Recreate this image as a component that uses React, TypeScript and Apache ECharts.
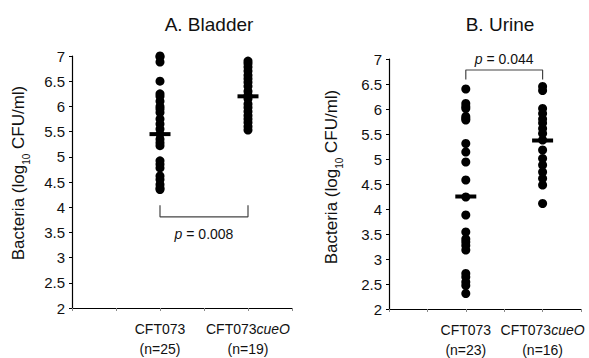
import React, { useEffect, useRef } from 'react';
import * as echarts from 'echarts';

const groupX = [2, 4];
const bladderWT = [7.0, 6.98, 6.88, 6.5, 6.25, 6.2, 6.1, 6.0, 5.95, 5.88, 5.75, 5.65, 5.55, 5.45, 5.35, 5.28, 5.22, 4.92, 4.85, 4.78, 4.62, 4.55, 4.45, 4.38, 4.35];
const bladderMut = [6.9, 6.85, 6.78, 6.7, 6.62, 6.55, 6.48, 6.4, 6.3, 6.22, 6.15, 6.05, 5.98, 5.9, 5.82, 5.75, 5.68, 5.6, 5.53];
const urineWT = [6.4, 6.11, 6.05, 6.01, 5.85, 5.81, 5.78, 5.31, 5.14, 4.94, 4.58, 4.24, 3.88, 3.54, 3.4, 3.34, 3.27, 3.18, 2.71, 2.64, 2.54, 2.47, 2.31];
const urineMut = [6.45, 6.37, 6.01, 5.91, 5.8, 5.72, 5.61, 5.51, 5.38, 5.18, 5.01, 4.88, 4.74, 4.61, 4.48, 4.11];
const bladderMeans = [5.45, 6.2];
const urineMeans = [4.25, 5.37];
const bladderN = [25, 19];
const urineN = [23, 16];
const bladderBracket = [4.04, 3.81];
const urineBracket = [6.59, 6.78];
const bladderP = { x: 3, y: 3.47, text: '0.008' };
const urineP = { x: 3, y: 7.0, text: '0.044' };
const titles = ['A. Bladder', 'B. Urine'];
const yName = '{t|Bacteria (log}{s|10}{t| CFU/ml)}';

const FONT = '"Liberation Sans", Arial, sans-serif';

export default function App() {
  const ref = useRef<HTMLDivElement>(null);
  useEffect(() => {
    const chart = echarts.init(ref.current!, undefined, { renderer: 'svg' });

    const xAxis = (gi: number, n: number[]) => ({
      type: 'value',
      gridIndex: gi,
      min: 0,
      max: 5,
      interval: 1,
      splitLine: { show: false },
      axisLine: { lineStyle: { color: '#000', width: 1.2 } },
      axisTick: { show: true, length: 3, lineStyle: { color: '#888' } },
      axisLabel: {
        margin: 11,
        showMinLabel: true,
        showMaxLabel: true,
        formatter: (v: number) => {
          if (v === groupX[0]) return `{a|CFT073}\n{a|(n=${n[0]})}`;
          if (v === groupX[1]) return `{a|CFT073}{b|cueO}\n{a|(n=${n[1]})}`;
          return '';
        },
        rich: {
          a: { fontSize: 14, fontFamily: FONT, color: '#111', lineHeight: 20 },
          b: { fontSize: 14, fontFamily: FONT, color: '#111', fontStyle: 'italic', lineHeight: 20 },
        },
      },
    });
    const yAxis = (gi: number, gap: number, pad: number) => ({
      type: 'value',
      gridIndex: gi,
      min: 2,
      max: 7,
      interval: 0.5,
      splitLine: { show: false },
      axisLine: { show: true, lineStyle: { color: '#000', width: 1.2 } },
      axisTick: { show: true, length: 3, lineStyle: { color: '#000' } },
      axisLabel: { margin: 7, fontSize: 15, fontFamily: FONT, color: '#111' },
      name: yName,
      nameLocation: 'middle',
      nameGap: gap,
      nameTextStyle: {
        padding: [0, 0, 0, pad],
        rich: {
          t: { fontSize: 17, fontFamily: FONT, color: '#111', lineHeight: 20 },
          s: { fontSize: 10, fontFamily: FONT, color: '#111', lineHeight: 20, verticalAlign: 'bottom', padding: [0, 0, -3, 0] },
        },
      },
    });

    const dots = (gi: number, x: number, vals: number[]) => ({
      type: 'scatter',
      xAxisIndex: gi,
      yAxisIndex: gi,
      symbol: 'circle',
      symbolSize: 9,
      itemStyle: { color: '#000', opacity: 1 },
      data: vals.map((v) => [x, v]),
      z: 3,
    });
    const meanBars = (gi: number, means: number[]) => ({
      type: 'scatter',
      xAxisIndex: gi,
      yAxisIndex: gi,
      symbol: 'rect',
      symbolSize: [21, 4],
      itemStyle: { color: '#000', opacity: 1 },
      data: means.map((m, i) => [groupX[i], m]),
      z: 4,
    });
    const bracket = (gi: number, b: number[]) => ({
      type: 'line',
      xAxisIndex: gi,
      yAxisIndex: gi,
      symbol: 'none',
      lineStyle: { color: '#444', width: 1.2 },
      data: [
        [groupX[0], b[0]],
        [groupX[0], b[1]],
        [groupX[1], b[1]],
        [groupX[1], b[0]],
      ],
      z: 2,
    });
    const pLabel = (gi: number, p: { x: number; y: number; text: string }) => ({
      type: 'scatter',
      xAxisIndex: gi,
      yAxisIndex: gi,
      symbolSize: 0,
      itemStyle: { color: '#000', opacity: 1 },
      data: [[p.x, p.y]],
      label: {
        show: true,
        position: 'inside',
        opacity: 1,
        formatter: `{i|p}{n| = ${p.text}}`,
        rich: {
          i: { fontSize: 14, fontFamily: FONT, color: '#111', fontStyle: 'italic' },
          n: { fontSize: 14, fontFamily: FONT, color: '#111' },
        },
      },
    });

    chart.setOption({
      animation: false,
      backgroundColor: '#fff',
      title: [
        { text: titles[0], left: 204, top: 10, textAlign: 'center', textStyle: { fontSize: 19, fontWeight: 'normal', fontFamily: FONT, color: '#111' } },
        { text: titles[1], left: 495, top: 10, textAlign: 'center', textStyle: { fontSize: 19, fontWeight: 'normal', fontFamily: FONT, color: '#111' } },
      ],
      grid: [
        { left: 72, top: 56, width: 220, height: 252 },
        { left: 389, top: 59, width: 192, height: 250 },
      ],
      xAxis: [xAxis(0, bladderN), xAxis(1, urineN)],
      yAxis: [yAxis(0, 44, 18), yAxis(1, 48, 14)],
      series: [
        dots(0, groupX[0], bladderWT),
        dots(0, groupX[1], bladderMut),
        meanBars(0, bladderMeans),
        bracket(0, bladderBracket),
        pLabel(0, bladderP),
        dots(1, groupX[0], urineWT),
        dots(1, groupX[1], urineMut),
        meanBars(1, urineMeans),
        bracket(1, urineBracket),
        pLabel(1, urineP),
      ],
    });
    return () => chart.dispose();
  }, []);
  return <div ref={ref} style={{ width: 589, height: 358, position: 'absolute', left: 0, top: 0 }} />;
}
